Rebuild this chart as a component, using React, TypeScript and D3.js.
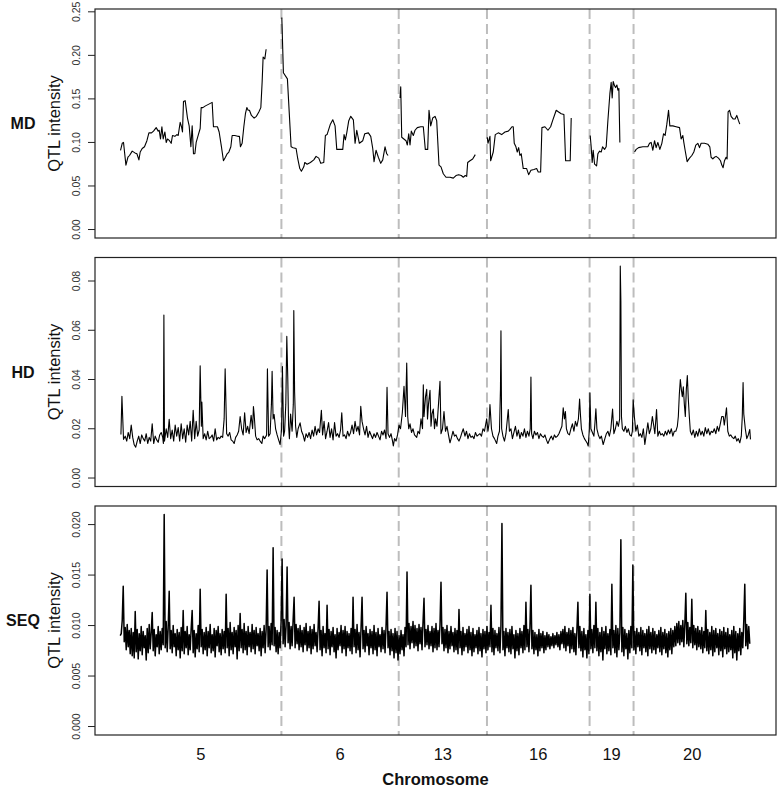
import React from 'react';
import * as d3 from 'd3';

// chromosome names and cumulative map breaks (Mb), last one = end of map
const chromosomes = ['5', '6', '13', '16', '19', '20'];
const chromBreaks = [0, 161.3, 278.7, 367, 469.7, 513.7, 631];

// MD panel: one curve per chromosome, [position, intensity]
const md5 = [[0.3,.0908],[2,.099],[3.3,.100],[5.7,.074],[7.7,.083],[9.3,.085],[12,.090],[14.7,.088],[16.7,.087],[18.7,.080],[20,.089],[22,.093],[24.3,.095],[26.7,.102],[28.7,.111],[31.3,.111],[33.3,.113],[36,.117],[38,.113],[39,.114],[40.3,.104],[41.7,.118],[43,.104],[44.7,.112],[46,.100],[47.3,.104],[49.3,.102],[51,.099],[52.3,.108],[54.7,.107],[56.7,.109],[58,.108],[60,.123],[61.3,.118],[62.3,.112],[63.3,.147],[65,.148],[67.3,.128],[69,.119],[70.7,.095],[72,.119],[73.3,.087],[74.7,.087],[76,.100],[78,.108],[80,.116],[81,.140],[82.7,.140],[85.3,.142],[88.7,.144],[92,.146],[93.3,.118],[97.3,.118],[99,.112],[101.3,.095],[103.3,.079],[105.3,.083],[107,.087],[108.7,.089],[110.7,.095],[112,.108],[114.7,.108],[117.7,.107],[119.3,.107],[120.3,.095],[122,.099],[123.7,.118],[125.3,.133],[126.7,.140],[128,.137],[129.3,.137],[131.3,.131],[134,.128],[136.3,.130],[138.7,.135],[140.7,.140],[142,.169],[143,.198],[144.7,.196],[146,.207]];
const md6 = [[161.7,.2435],[162,.232],[163.3,.180],[167.3,.173],[171,.095],[173,.094],[176,.093],[177.7,.081],[179.7,.070],[181.3,.067],[183.7,.072],[184.7,.077],[187,.075],[190.3,.077],[193.7,.080],[196,.084],[198.7,.082],[200.7,.076],[203.7,.077],[205.3,.108],[207,.109],[210.3,.121],[212.7,.126],[215,.119],[216.7,.092],[222.7,.092],[224,.109],[225.3,.103],[226.7,.111],[228.7,.125],[230.7,.130],[233.3,.126],[235,.099],[236.7,.114],[239.3,.099],[242.7,.102],[244.7,.110],[248.3,.111],[250.7,.107],[252.7,.093],[254,.078],[256,.091],[258.3,.083],[260.7,.076],[262.7,.080],[265,.095],[266.7,.087],[268,.085]];
const md13 = [[280,.151],[280.7,.164],[281.7,.106],[286,.102],[287.3,.097],[288.7,.110],[290,.097],[291.3,.113],[293.3,.108],[295,.114],[297.3,.117],[300.7,.118],[303.3,.118],[305.3,.092],[307.7,.092],[309,.137],[310.7,.119],[312.7,.128],[315,.130],[316.7,.125],[319,.074],[321,.072],[323.3,.064],[326,.060],[330,.060],[333.3,.059],[336,.062],[338.7,.063],[341.3,.062],[343.3,.060],[345.3,.062],[346.7,.061],[347.7,.077],[350,.079],[352.7,.081],[355.3,.086]];
const md16 = [[367.3,.106],[368,.099],[370,.107],[370.7,.079],[373.3,.089],[375.3,.109],[378.3,.111],[381.7,.109],[385,.112],[388.3,.113],[390,.115],[392,.118],[393.3,.118],[394.3,.099],[396,.095],[397.3,.089],[398.7,.094],[400,.085],[401.3,.087],[403.3,.070],[406.7,.070],[408.7,.063],[411,.068],[414,.069],[416.7,.070],[418.3,.066],[420.7,.066],[422,.117],[425,.118],[428,.114],[430.7,.118],[432.7,.125],[436.3,.137],[438.7,.135],[441.3,.133],[444,.132],[445.7,.079],[448,.079],[450.3,.079],[451.3,.128]];
const md19 = [[470.3,.108],[471.3,.095],[472.3,.077],[473.3,.091],[474.7,.075],[476.7,.073],[478,.087],[479.7,.090],[481.3,.089],[482.7,.095],[484.7,.092],[486.3,.095],[488,.125],[490,.156],[491.3,.169],[492.3,.151],[493.3,.170],[494.7,.165],[495.7,.163],[497,.166],[498,.160],[499,.162],[500,.100]];
const md20 = [[514.7,.089],[516.3,.092],[518.7,.094],[523,.095],[528,.095],[529.7,.099],[531.3,.100],[533,.091],[534.7,.102],[536.3,.094],[538,.100],[540,.092],[542,.099],[543.7,.110],[545.3,.108],[547,.121],[548.7,.137],[550,.119],[553,.119],[556.3,.118],[559.7,.117],[561.3,.104],[563,.108],[564,.100],[565.3,.091],[567.3,.078],[569.7,.082],[572,.085],[574,.089],[576,.097],[578,.099],[579.7,.094],[581.3,.099],[584.7,.099],[588,.098],[590,.095],[591.3,.083],[593,.081],[594.7,.083],[596.3,.084],[598.7,.082],[600.7,.079],[602,.074],[603.3,.071],[604.7,.079],[606.3,.083],[607.3,.081],[608.3,.135],[609.7,.137],[611.3,.130],[613.3,.127],[615.3,.127],[617,.131],[618.7,.125],[620,.121]];

// HD panel, [position, intensity]
const hd = [[0.7,.0177],[1.7,.0332],[3.3,.0157],[5,.0170],[6.5,.0150],[8,.0185],[9.5,.0160],[11,.0215],[12.5,.0165],[14,.0135],[15.5,.0125],[17,.0150],[18.5,.0170],[20,.0140],[21.5,.0175],[23,.0160],[24.5,.0150],[26,.0180],[27.5,.0140],[29,.0165],[30.5,.0150],[32,.0220],[33.5,.0140],[35,.0170],[36.5,.0155],[38,.0145],[39.5,.0175],[41,.0185],[42.5,.0165],[43.2,.0140],[43.7,.0662],[44.3,.0150],
[46,.0200],[47.5,.0165],[49,.0238],[50.5,.0160],[52,.0195],[53.5,.0150],[55,.0215],[56.5,.0170],[58,.0205],[59.5,.0150],[61,.0220],[62.5,.0160],[64,.0200],[65.5,.0145],[67,.0215],[68.5,.0175],[70,.0230],[71.5,.0150],[73,.0275],[74.5,.0160],[76,.0230],[77.5,.0170],[79,.0195],[80,.0456],[81.2,.0210],[81.7,.0308],[83,.0160],[84.5,.0180],[86,.0155],[87.5,.0190],[89,.0160],[90.5,.0165],[92,.0175],[93.5,.0150],[95,.0200],[96.5,.0155],[98,.0165],[99.5,.0160],[101,.0170],[102.5,.0165],[104,.0240],[105,.0443],[106.5,.0180],[108,.0170],[109.5,.0185],[111,.0155],[112.5,.0150],[114,.0140],[115.5,.0165],[117,.0175],[118.5,.0190],
[120,.0250],[121.5,.0200],[123,.0175],[124.5,.0265],[126,.0185],[127.5,.0210],[129,.0180],[131,.0255],[132.5,.0200],[133.3,.0290],[134,.0260],[135.5,.0170],[137,.0155],[138.5,.0160],[140,.0150],[141.7,.0140],[143,.0170],[144.5,.0160],[146.5,.0175],[147.3,.0443],[148.5,.0170],[150,.0180],[151.3,.0300],[152,.0433],[153,.0240],[154,.0258],[155.5,.0200],[157,.0175],[158.5,.0155],[160,.0136],
[161.5,.0200],[162.3,.0453],[163.5,.0170],[164.5,.0190],[165.7,.0300],[166.7,.0575],[167.7,.0400],[168.5,.0210],[169.3,.0160],[170.5,.0260],[172,.0190],[173.2,.0300],[173.7,.0680],[174.5,.0350],[175.5,.0210],[176.7,.0165],[178,.0200],[180,.0224],[181.5,.0190],[183,.0175],[184.5,.0150],[186,.0180],[187.5,.0165],[189,.0185],[190.5,.0160],[192,.0195],[193.5,.0170],[195,.0210],[196.5,.0175],[198,.0200],[199.5,.0185],[201.3,.0275],[202.5,.0175],[204,.0230],[205.5,.0160],[207,.0190],[208.5,.0225],[210,.0165],[211.5,.0200],[213,.0155],[214.5,.0225],[216,.0170],[217.5,.0180],[219,.0165],[220.5,.0195],[221.7,.0265],[223,.0170],[224.5,.0175],[226,.0160],[227.5,.0190],[229,.0170],[230.5,.0185],[232,.0215],[233.5,.0180],[235,.0230],[236.5,.0190],[238,.0210],[239.5,.0175],[240.7,.0291],[242,.0230],[243.5,.0200],[245,.0175],[246.5,.0210],[248,.0165],[249.5,.0190],[251,.0175],[252.5,.0160],[254,.0180],[255.5,.0165],[257,.0185],[258.5,.0170],[260,.0155],[261.5,.0190],[263,.0175],[264.5,.0195],[266,.0160],[267,.0368],[268,.0180],[269.5,.0165],[271,.0180],[272.5,.0150],[273.3,.0130],[274.5,.0160],[276,.0150],[277.5,.0175],
[279,.0215],[280.5,.0200],[282.3,.0265],[284,.0372],[285.5,.0250],[286.7,.0467],[287.7,.0250],[288.7,.0200],[290,.0220],[291.5,.0185],[293,.0200],[294.5,.0175],[296.7,.0165],[298,.0190],[299.5,.0180],[301,.0240],[302.5,.0200],[303.3,.0379],[304,.0250],[305.5,.0330],[306.7,.0360],[307.5,.0240],[308.5,.0300],[310,.0356],[311,.0210],[312,.0260],[313.3,.0280],[314.5,.0200],[315.5,.0240],[317,.0210],[318.5,.0300],[320,.0393],[321,.0180],[322.5,.0200],[324,.0270],[325.5,.0190],[327,.0210],[328.5,.0175],[330,.0143],[331.5,.0165],[333,.0190],[334.5,.0170],[336,.0175],[337.5,.0160],[339,.0150],[340.5,.0165],[342,.0185],[343.3,.0200],[345,.0170],[346.5,.0190],[348,.0160],[349.5,.0180],[351,.0165],[352.5,.0170],[354,.0160],[355.5,.0185],[357,.0170],[358.5,.0175],[360,.0180],[361.5,.0170],[363,.0200],[364.5,.0190],[366.7,.0240],
[368,.0190],[369,.0220],[370,.0298],[371.5,.0200],[373,.0170],[374.5,.0160],[376.7,.0140],[378,.0170],[379.5,.0190],[380.5,.0360],[381,.0598],[381.7,.0200],[383,.0170],[384.5,.0150],[386,.0180],[388.3,.0278],[389.5,.0190],[391,.0200],[392.5,.0160],[394,.0185],[395.5,.0210],[397,.0170],[398.5,.0195],[400,.0160],[401.5,.0185],[403,.0170],[404.5,.0200],[406,.0165],[407.5,.0190],[409,.0170],[410.3,.0200],[411,.0410],[411.7,.0180],[413,.0160],[414.5,.0190],[416,.0175],[417.5,.0185],[419,.0160],[420.5,.0180],[422,.0170],[423.5,.0165],[425,.0175],[426.5,.0155],[428,.0140],[430,.0160],[431.5,.0170],[433,.0155],[434.5,.0175],[436,.0165],[437.5,.0170],[439,.0180],[440.5,.0195],[442,.0210],[443.3,.0285],[444.5,.0240],[445.5,.0270],[446.5,.0200],[448,.0180],[449.5,.0175],[451,.0200],[452.5,.0220],[454,.0190],[455.5,.0230],[457,.0210],[458.5,.0240],[459.7,.0321],[460.5,.0260],[461.5,.0200],[463,.0175],[464.5,.0160],[466,.0150],[467.5,.0140],[468.3,.0130],[469.5,.0200],
[470,.0346],[471,.0200],[472.5,.0185],[474,.0170],[475,.0220],[476,.0281],[477,.0200],[478.5,.0175],[480,.0160],[481.5,.0170],[483.3,.0136],[485,.0160],[486.5,.0180],[488,.0190],[489.5,.0170],[491,.0200],[492.7,.0280],[494,.0180],[495.5,.0200],[497,.0230],[498.5,.0210],[499.8,.0240],[500.4,.0861],[501,.0720],[501.6,.0250],[502.5,.0200],[504,.0190],[505.5,.0210],[507,.0185],[508.5,.0200],[510,.0175],[511.5,.0170],[512.5,.0190],[513.3,.0318],
[514.5,.0250],[516,.0190],[517.5,.0215],[519,.0170],[520.5,.0180],[522,.0165],[523.5,.0200],[525,.0136],[526.5,.0180],[528,.0224],[529.5,.0180],[531,.0200],[532.5,.0250],[534,.0210],[535,.0180],[536.7,.0278],[538,.0170],[539.5,.0190],[541,.0175],[542.5,.0180],[544,.0170],[545.5,.0190],[547,.0175],[548.5,.0195],[550,.0180],[551.5,.0200],[553,.0170],[554.5,.0190],[556,.0190],[557.5,.0210],[558.5,.0250],[559.5,.0340],[560.5,.0400],[561.5,.0360],[562.5,.0330],[563.5,.0370],[564.5,.0300],[565.5,.0250],[566.5,.0360],[567.5,.0416],[568.5,.0320],[569.5,.0250],[570.5,.0190],[572,.0175],[573.5,.0195],[575,.0165],[576.5,.0190],[578,.0170],[579.5,.0200],[581,.0175],[582.5,.0190],[584,.0170],[585.5,.0205],[587,.0180],[588.5,.0200],[590,.0175],[591.5,.0190],[593,.0185],[594.5,.0200],[596,.0180],[597.5,.0210],[599,.0190],[600.5,.0220],[602,.0250],[603.5,.0250],[604.5,.0215],[606.7,.0285],[608,.0190],[609.5,.0170],[611,.0175],[612.5,.0165],[614,.0160],[615.5,.0170],[617,.0150],[618.5,.0160],[620,.0143],[621.5,.0170],[622.5,.0250],[623.3,.0388],[624,.0260],[625.5,.0200],[627,.0160],[628.5,.0175],[630,.0197],[630.7,.0157]];

// SEQ panel: one value per Mb, starting at position 0
const seq = [
.0090,.0092,.0105,.0139,.0084,.0098,.0076,.0101,.0079,.0095,
.0072,.0097,.0070,.0093,.0068,.0114,.0074,.0096,.0067,.0092,
.0075,.0099,.0071,.0094,.0078,.0090,.0066,.0097,.0073,.0101,
.0077,.0093,.0113,.0075,.0096,.0070,.0091,.0079,.0099,.0072,
.0094,.0076,.0097,.0081,.0210,.0078,.0104,.0074,.0098,.0134,
.0077,.0095,.0073,.0100,.0079,.0092,.0070,.0096,.0076,.0093,
.0068,.0098,.0075,.0115,.0072,.0094,.0078,.0099,.0071,.0091,
.0076,.0097,.0115,.0073,.0095,.0069,.0092,.0077,.0100,.0074,
.0136,.0079,.0096,.0072,.0093,.0076,.0098,.0070,.0094,.0078,
.0101,.0073,.0091,.0075,.0097,.0069,.0095,.0080,.0099,.0074,
.0092,.0071,.0096,.0077,.0094,.0073,.0131,.0078,.0097,.0070,
.0103,.0076,.0093,.0072,.0098,.0079,.0095,.0067,.0100,.0075,
.0112,.0078,.0096,.0073,.0102,.0076,.0094,.0071,.0099,.0079,
.0093,.0074,.0101,.0077,.0095,.0072,.0098,.0080,.0092,.0075,
.0097,.0070,.0094,.0078,.0100,.0073,.0096,.0155,.0079,.0099,
.0076,.0102,.0081,.0177,.0080,.0098,.0074,.0095,.0072,.0093,
.0078,.0104,.0166,.0082,.0106,.0079,.0100,.0158,.0083,.0103,
.0077,.0099,.0080,.0105,.0128,.0078,.0101,.0082,.0097,.0076,
.0100,.0079,.0095,.0074,.0098,.0081,.0102,.0075,.0094,.0078,
.0099,.0072,.0096,.0077,.0101,.0080,.0093,.0074,.0097,.0124,
.0076,.0095,.0070,.0099,.0078,.0092,.0073,.0120,.0077,.0096,
.0071,.0094,.0079,.0098,.0074,.0091,.0068,.0097,.0076,.0093,
.0080,.0100,.0073,.0095,.0077,.0099,.0070,.0094,.0078,.0092,
.0075,.0097,.0072,.0128,.0079,.0096,.0073,.0101,.0076,.0093,
.0069,.0098,.0128,.0077,.0095,.0074,.0099,.0080,.0092,.0071,
.0096,.0078,.0094,.0072,.0100,.0076,.0093,.0070,.0097,.0079,
.0091,.0074,.0098,.0077,.0095,.0073,.0099,.0133,.0078,.0094,
.0071,.0096,.0075,.0092,.0068,.0097,.0073,.0094,.0066,.0090,
.0072,.0095,.0076,.0091,.0070,.0098,.0079,.0153,.0081,.0102,
.0077,.0099,.0083,.0104,.0078,.0100,.0080,.0097,.0075,.0101,
.0082,.0098,.0076,.0103,.0127,.0079,.0096,.0081,.0100,.0077,
.0094,.0080,.0099,.0074,.0097,.0078,.0102,.0076,.0095,.0079,
.0101,.0143,.0082,.0098,.0075,.0096,.0078,.0100,.0073,.0094,
.0077,.0099,.0080,.0093,.0074,.0097,.0076,.0095,.0072,.0116,
.0078,.0094,.0071,.0098,.0075,.0092,.0079,.0096,.0073,.0099,
.0076,.0093,.0070,.0097,.0074,.0091,.0078,.0095,.0072,.0098,
.0075,.0092,.0069,.0096,.0077,.0094,.0073,.0099,.0076,.0093,
.0079,.0120,.0074,.0097,.0071,.0095,.0078,.0092,.0075,.0098,
.0073,.0100,.0201,.0076,.0094,.0070,.0097,.0078,.0093,.0074,
.0096,.0072,.0099,.0077,.0091,.0068,.0095,.0075,.0092,.0071,
.0097,.0078,.0094,.0073,.0100,.0076,.0123,.0079,.0096,.0074,
.0098,.0140,.0077,.0095,.0072,.0093,.0076,.0091,.0070,.0096,
.0075,.0092,.0078,.0094,.0073,.0090,.0076,.0093,.0079,.0091,
.0077,.0089,.0080,.0092,.0078,.0090,.0081,.0093,.0079,.0091,
.0076,.0094,.0082,.0096,.0078,.0099,.0075,.0093,.0080,.0097,
.0073,.0095,.0077,.0098,.0074,.0092,.0071,.0096,.0123,.0078,
.0099,.0075,.0094,.0069,.0097,.0076,.0091,.0068,.0095,.0072,
.0131,.0077,.0096,.0073,.0100,.0078,.0123,.0075,.0097,.0070,
.0093,.0074,.0098,.0066,.0094,.0077,.0099,.0072,.0092,.0075,
.0096,.0071,.0141,.0078,.0095,.0073,.0100,.0069,.0097,.0076,
.0093,.0185,.0074,.0098,.0070,.0096,.0077,.0092,.0067,.0095,
.0073,.0099,.0078,.0160,.0076,.0094,.0072,.0097,.0079,.0093,
.0075,.0098,.0071,.0095,.0078,.0092,.0074,.0096,.0070,.0099,
.0077,.0093,.0073,.0097,.0076,.0094,.0072,.0091,.0078,.0095,
.0074,.0098,.0071,.0093,.0077,.0096,.0073,.0092,.0069,.0094,
.0076,.0097,.0072,.0095,.0079,.0099,.0080,.0102,.0083,.0104,
.0081,.0100,.0084,.0105,.0079,.0101,.0132,.0082,.0103,.0080,
.0098,.0083,.0126,.0078,.0100,.0081,.0097,.0076,.0099,.0079,
.0095,.0077,.0098,.0073,.0094,.0078,.0115,.0075,.0096,.0072,
.0093,.0076,.0099,.0070,.0095,.0074,.0097,.0078,.0092,.0071,
.0096,.0075,.0094,.0069,.0098,.0077,.0093,.0072,.0097,.0074,
.0091,.0076,.0095,.0068,.0099,.0073,.0094,.0066,.0092,.0075,
.0097,.0071,.0093,.0078,.0105,.0141,.0080,.0101,.0077,.0099,
.0082];

const mdTicks = [0, 0.05, 0.1, 0.15, 0.2, 0.25];
const hdTicks = [0, 0.02, 0.04, 0.06, 0.08];
const seqTicks = [0, 0.005, 0.01, 0.015, 0.02];

const FONT = 'Liberation Sans, Arial, Helvetica, sans-serif';

function App() {
  const left = 95, right = 776, panelH = 229;
  const tops = [9, 257.5, 506];

  const span = chromBreaks[chromBreaks.length - 1] - chromBreaks[0];
  const x = d3.scaleLinear()
    .domain([chromBreaks[0] - span * 0.04, chromBreaks[chromBreaks.length - 1] + span * 0.04])
    .range([left, right]);

  const seqPts = seq.map((v, i) => [chromBreaks[0] + i, v]);

  const panels = [
    { name: 'MD', lines: [md5, md6, md13, md16, md19, md20], ticks: mdTicks, fmt: d3.format('.2f'), lw: 1.1 },
    { name: 'HD', lines: [hd], ticks: hdTicks, fmt: d3.format('.2f'), lw: 1.1 },
    { name: 'SEQ', lines: [seqPts], ticks: seqTicks, fmt: d3.format('.3f'), lw: 1.5 },
  ];

  const mids = chromosomes.map((c, i) => (chromBreaks[i] + chromBreaks[i + 1]) / 2);

  return (
    <svg width={778} height={787} style={{ position: 'absolute', left: 0, top: 0, background: '#fff' }}
      fontFamily={FONT}>
      <rect x={0} y={0} width={778} height={787} fill="#fff" />
      {panels.map((p, pi) => {
        const top = tops[pi];
        const bottom = top + panelH;
        const ymax = d3.max(p.lines, l => d3.max(l, d => d[1])) as number;
        const y = d3.scaleLinear().domain([-0.04 * ymax, 1.04 * ymax]).range([bottom, top]);
        const line = d3.line<number[]>().x(d => x(d[0])).y(d => y(d[1]));
        const cy = (top + bottom) / 2;
        return (
          <g key={p.name}>
            {chromBreaks.slice(1, -1).map((b, i) => (
              <line key={i} x1={x(b)} x2={x(b)} y1={top} y2={bottom}
                stroke="#bdbdbd" strokeWidth={2} strokeDasharray="10,5" />
            ))}
            {p.lines.map((l, i) => (
              <path key={i} d={line(l) as string} fill="none" stroke="#000" strokeWidth={p.lw}
                strokeLinejoin="round" />
            ))}
            <rect x={left} y={top} width={right - left} height={panelH} fill="none" stroke="#222" strokeWidth={1.2} />
            {p.ticks.map(t => (
              <g key={t}>
                <line x1={left - 7} x2={left} y1={y(t)} y2={y(t)} stroke="#222" strokeWidth={1} />
                <text transform={`translate(76,${y(t)}) rotate(-90)`} textAnchor="middle" dy="0.35em"
                  fontSize={10.5} fill="#333">{p.fmt(t)}</text>
              </g>
            ))}
            <text transform={`translate(54,${cy}) rotate(-90)`} textAnchor="middle" dy="0.35em"
              fontSize={16.5} fill="#111">QTL intensity</text>
            <text x={23} y={cy} textAnchor="middle" dy="0.35em" fontSize={16} fontWeight="bold" fill="#111">{p.name}</text>
          </g>
        );
      })}
      {chromosomes.map((c, i) => (
        <text key={c} x={x(mids[i])} y={760} textAnchor="middle" fontSize={16.5} fill="#111">{c}</text>
      ))}
      <text x={(left + right) / 2} y={785} textAnchor="middle" fontSize={16.5} fontWeight="bold" fill="#111">Chromosome</text>
    </svg>
  );
}

export default App;
